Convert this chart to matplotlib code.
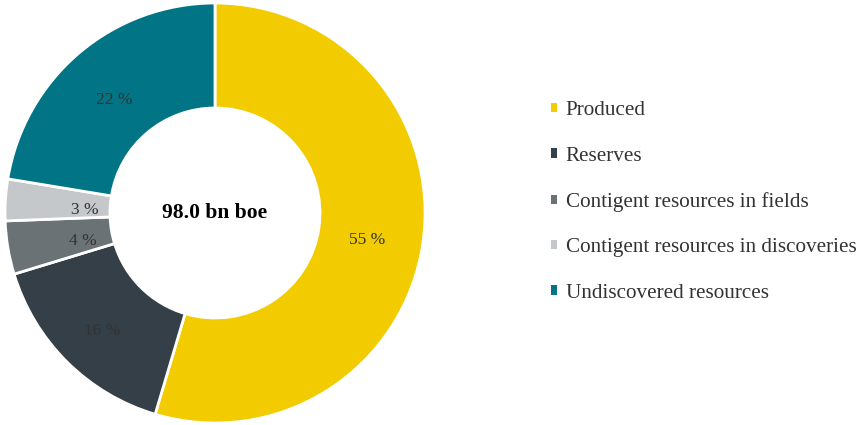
import numpy as np
import matplotlib.pyplot as plt
from matplotlib.patches import Patch

plt.rcParams['font.family'] = ['Liberation Serif', 'DejaVu Serif']

categories = ['Produced', 'Reserves', 'Contigent resources in fields',
              'Contigent resources in discoveries', 'Undiscovered resources']
shares = [54.6, 15.7, 4.1, 3.2, 22.4]
colors = ['#F2CB00', '#353F47', '#6B7276', '#C5C8CA', '#017585']
center_label = '98.0 bn boe'

fig = plt.figure(figsize=(8.59, 4.25), dpi=100)
ax = fig.add_axes([5 / 859, 2 / 425, 420 / 859, 420 / 425])

wedges, texts, autotexts = ax.pie(
    shares, colors=colors, startangle=90, counterclock=False,
    wedgeprops=dict(width=0.5, edgecolor='white', linewidth=2),
    autopct=lambda p: f'{p:.0f} %', pctdistance=0.73,
    textprops=dict(fontsize=12.5, color='#333333'))

# small slices get their labels pulled toward the hole, like the original
label_dist = [0.73, 0.76, 0.64, 0.62, 0.74]
for w, t, d in zip(wedges, autotexts, label_dist):
    ang = np.deg2rad((w.theta1 + w.theta2) / 2)
    t.set_position((d * np.cos(ang), d * np.sin(ang) - 0.025))

ax.set_xlim(-1.0, 1.0)
ax.set_ylim(-1.0, 1.0)
ax.set_aspect('equal')
ax.text(0, 0.0, center_label, ha='center', va='center', fontsize=15.5,
        fontweight='bold', color='black')

handles = [Patch(facecolor=c, edgecolor='none') for c in colors]
fig.legend(handles, categories, loc='center left',
           bbox_to_anchor=(551 / 859, (425 - 202) / 425), frameon=False,
           borderpad=0, borderaxespad=0,
           fontsize=15.2, handlelength=0.3, handleheight=0.3,
           handletextpad=0.4, labelspacing=1.25, labelcolor='#333333')

fig.savefig('out.png', dpi=100)
